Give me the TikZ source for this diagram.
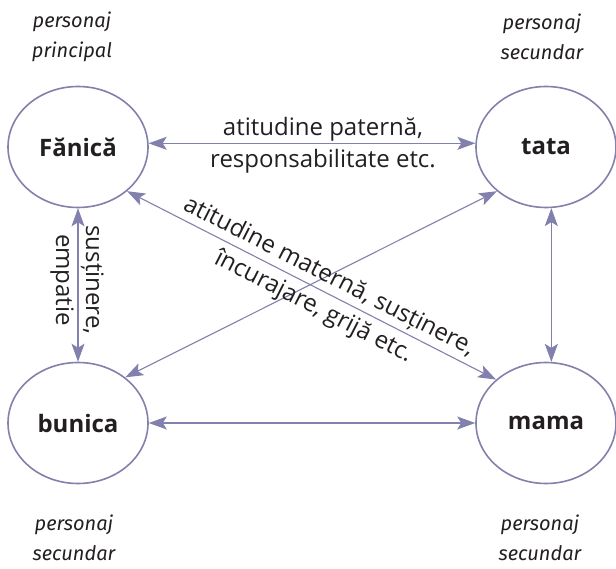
\documentclass[tikz,border=0pt]{standalone}
\usepackage{fontspec}
\setmainfont{Open Sans}
\newfontfamily\rolefont{Fira Sans}
\usepackage{tikz}
\usetikzlibrary{shapes.geometric, arrows.meta}
\definecolor{linecol}{RGB}{130,128,172}
\definecolor{textcol}{RGB}{35,31,32}

\begin{document}
\begin{tikzpicture}[x=1pt, y=-1pt,
		persona/.style={ellipse, draw=linecol, line width=1.6pt, minimum width=140pt, minimum height=121pt, inner sep=0pt, text=textcol, font=\fontsize{24}{28}\selectfont\bfseries},
		link/.style={draw=linecol, line width=1.1pt, {Stealth[length=18pt, width=13pt, inset=4pt]}-{Stealth[length=18pt, width=13pt, inset=4pt]}},
		note/.style={align=center, text=textcol, inner sep=0pt, font=\fontsize{24}{32}\selectfont},
		role/.style={align=center, text=textcol, inner sep=0pt, font=\rolefont\itshape\fontsize{20}{30}\selectfont}]
		\useasboundingbox (0, 0) rectangle (616, 569);
		
		% Characters
		\node[persona] (fanica) at (78, 147) {Fănică};
		\node[persona] (tata) at (546, 147) {tata};
		\node[persona] (bunica) at (78, 423) {bunica};
		\node[persona] (mama) at (546, 423) {mama};
		
		% Roles
		\node[role] (rolF) at (72, 37) {personaj\\principal};
		\node[role] (rolT) at (542, 37) {personaj\\secundar};
		\node[role] (rolB) at (74, 538) {personaj\\secundar};
		\node[role] (rolM) at (540, 538) {personaj\\secundar};
		
		% Relations
		\draw[link] (fanica.3) -- (tata.177);
		\draw[link] (bunica) -- (mama);
		\draw[link] (fanica) -- (bunica);
		\draw[link] (tata.-85) -- (mama.85);
		\draw[link] (fanica.-42) -- (mama.139);
		\draw[link] (bunica.44) -- (tata.222);
		
		% Relation labels
		\node[note] (notTop) at (323, 145) {atitudine paternă,\\responsabilitate etc.};
		\node[note, rotate=-90, font=\fontsize{24}{30}\selectfont] (notLeft) at (77, 280) {susținere,\\empatie};
		\node[note, rotate=-27, font=\fontsize{24}{34}\selectfont] (notDiag) at (321, 292) {atitudine maternă, susținere,\\încurajare, grijă etc.};
	\end{tikzpicture}
\end{document}
